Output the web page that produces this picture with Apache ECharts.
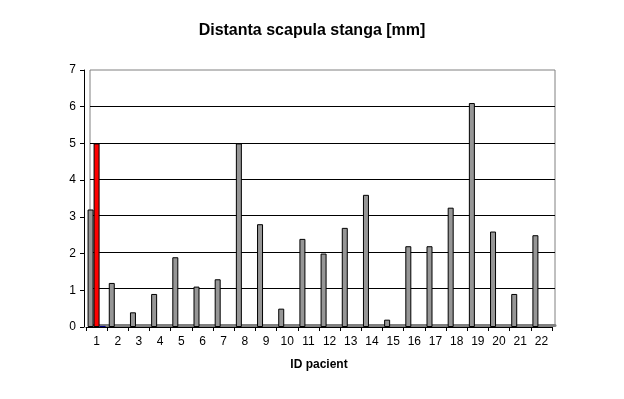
<!DOCTYPE html>
<html>
<head>
<meta charset="utf-8">
<script src="https://cdn.jsdelivr.net/npm/echarts@6/dist/echarts.min.js"></script>
<style>
  html, body { margin: 0; padding: 0; background: #fff; }
  #chart { width: 624px; height: 399px; }
</style>
</head>
<body>
<div id="chart"></div>
<script>
/* ===== data ===== */
const categories = ['1','2','3','4','5','6','7','8','9','10','11','12','13','14','15','16','17','18','19','20','21','22'];
const stanga = [3.2, 1.2, 0.4, 0.9, 1.9, 1.1, 1.3, 5.0, 2.8, 0.5, 2.4, 2.0, 2.7, 3.6, 0.2, 2.2, 2.2, 3.25, 6.1, 2.6, 0.9, 2.5];
const rosu = [5.0, '-', '-', '-', '-', '-', '-', '-', '-', '-', '-', '-', '-', '-', '-', '-', '-', '-', '-', '-', '-', '-'];
const albastru = [0.03, '-', '-', '-', '-', '-', '-', '-', '-', '-', '-', '-', '-', '-', '-', '-', '-', '-', '-', '-', '-', '-'];
const yTicks = { min: 0, max: 7, step: 1 };

const FONT = '"Liberation Sans", Arial, sans-serif';
const chart = echarts.init(document.getElementById('chart'));

chart.setOption({
  backgroundColor: '#fff',
  animation: false,
  title: {
    text: 'Distanta scapula stanga [mm]',
    left: 'center',
    top: 18,
    textStyle: { fontFamily: FONT, fontSize: 16, fontWeight: 'bold', color: '#000' }
  },
  grid: [
    // front: axes + bars
    { left: 86, right: 72, top: 70, bottom: 72 },
    // back wall (3D look)
    { left: 90, right: 69, top: 70, bottom: 74, show: true, borderColor: '#808080', borderWidth: 1 }
  ],
  xAxis: [{
    gridIndex: 0,
    type: 'category',
    data: categories,
    boundaryGap: true,
    axisLine: { lineStyle: { color: '#000', width: 1 } },
    axisTick: { show: true, interval: 0, length: 4, lineStyle: { color: '#000' } },
    axisLabel: { interval: 0, margin: 9, fontFamily: FONT, fontSize: 12, color: '#000' },
    name: 'ID pacient',
    nameLocation: 'middle',
    nameGap: 32,
    nameTextStyle: { fontFamily: FONT, fontSize: 12, fontWeight: 'bold', color: '#000' },
    z: 5
  }, {
    gridIndex: 1,
    type: 'category',
    data: categories,
    axisLine: { lineStyle: { color: '#808080', width: 3 } },
    axisTick: { show: false },
    axisLabel: { show: false }
  }],
  yAxis: [{
    gridIndex: 0,
    type: 'value',
    min: yTicks.min,
    max: yTicks.max,
    interval: yTicks.step,
    offset: 2,
    axisLine: { show: true, lineStyle: { color: '#000' } },
    axisTick: { show: true, length: 4, lineStyle: { color: '#000' } },
    axisLabel: { margin: 8, fontFamily: FONT, fontSize: 12, color: '#000' },
    splitLine: { show: false }
  }, {
    gridIndex: 1,
    type: 'value',
    min: yTicks.min,
    max: yTicks.max,
    interval: yTicks.step,
    axisLine: { show: false },
    axisTick: { show: false },
    axisLabel: { show: false },
    splitLine: { show: true, showMinLine: false, showMaxLine: false, lineStyle: { color: '#000', width: 1 } }
  }],
  series: [{
    name: 'stanga',
    type: 'bar',
    data: stanga,
    barWidth: 6,
    barGap: '0%',
    itemStyle: { color: '#969696', borderColor: '#000', borderWidth: 1 }
  }, {
    name: 'rosu',
    type: 'bar',
    data: rosu,
    barWidth: 6,
    barGap: '0%',
    itemStyle: { color: '#ff0000', borderColor: '#000', borderWidth: 1 }
  }, {
    name: 'albastru',
    type: 'bar',
    data: albastru,
    barWidth: 6,
    barGap: '0%',
    itemStyle: { color: '#000080', borderColor: '#000080', borderWidth: 0 }
  }]
});
</script>
</body>
</html>
